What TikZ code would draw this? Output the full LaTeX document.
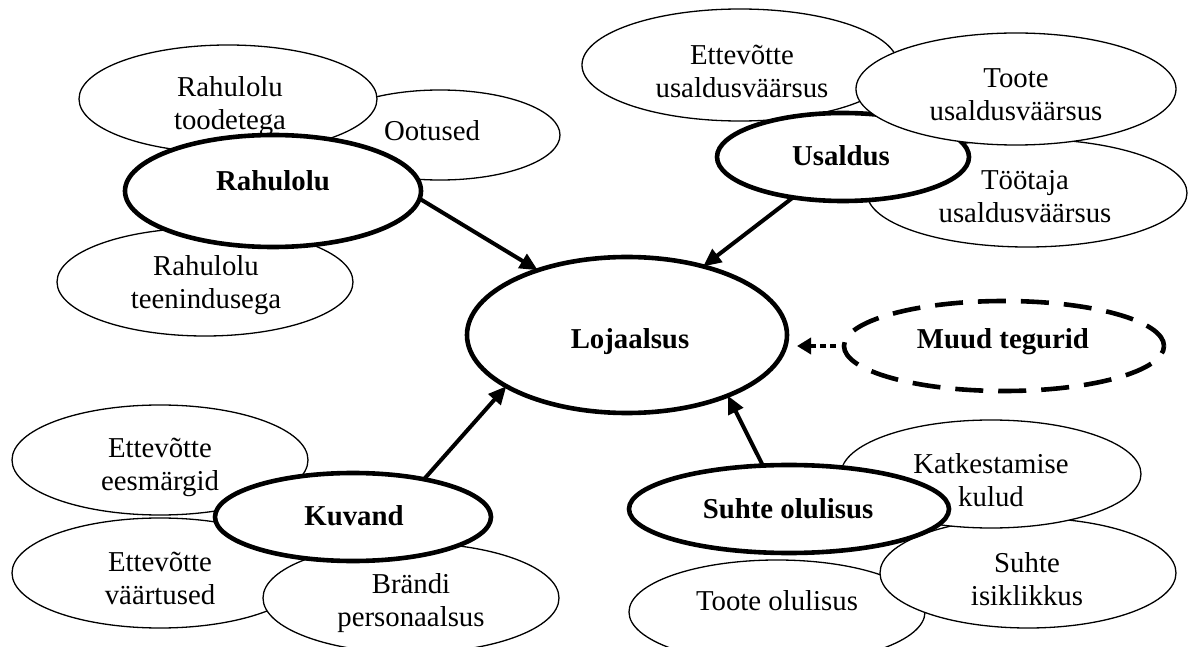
\documentclass[tikz,border=0pt]{standalone}
\usepackage{fontspec}
\setmainfont{Liberation Serif}
\usetikzlibrary{shapes.geometric,arrows.meta}
\begin{document}
\begin{tikzpicture}[x=0.5pt,y=-0.5pt,
  thinel/.style={ellipse,draw,fill=white,line width=0.65pt,inner sep=0pt,outer sep=0pt},
  boldel/.style={ellipse,draw,fill=white,line width=2.3pt,inner sep=0pt,outer sep=0pt},
  dashel/.style={ellipse,draw,fill=white,line width=2.3pt,inner sep=0pt,outer sep=0pt,dash pattern=on 14pt off 7.5pt},
  txt/.style={align=center,inner sep=0pt,font=\fontsize{14.4}{16.5}\selectfont},
  btxt/.style={align=center,inner sep=0pt,font=\fontsize{14.4}{16.5}\selectfont\bfseries},
  conn/.style={line width=2pt,-{Triangle[length=9pt,width=8pt]}},
  dotconn/.style={line width=2.3pt,dash pattern=on 3pt off 2pt,-{Triangle[length=7pt,width=8pt]}},
]
\useasboundingbox (0,0) rectangle (1191,647);

% Rahulolu group
\node[thinel,minimum width=120pt,minimum height=45pt] (oot) at (440,135) {};
\node[txt] (oot-t) at (432,131) {Ootused};
\node[thinel,minimum width=149pt,minimum height=54pt] (rtood) at (228,99) {};
\node[txt] (rtood-t) at (230,106) {Rahulolu\\toodetega};
\node[thinel,minimum width=148pt,minimum height=54pt] (rteen) at (205,282) {};
\node[txt] (rteen-t) at (206,285) {Rahulolu\\teenindusega};
\node[boldel,minimum width=148pt,minimum height=56pt] (rah) at (273,191) {};
\node[btxt] (rah-t) at (273,181) {Rahulolu};

% Usaldus group
\node[thinel,minimum width=158pt,minimum height=56pt] (ettus) at (740,65) {};
\node[txt] (ettus-t) at (742,71) {Ettevõtte\\usaldusväärsus};
\node[thinel,minimum width=160pt,minimum height=54pt] (tootaja) at (1027,193) {};
\node[txt] (tootaja-t) at (1025,197) {Töötaja\\usaldusväärsus};
\node[boldel,minimum width=126pt,minimum height=44pt] (usal) at (843,157) {};
\node[btxt] (usal-t) at (841,156) {Usaldus};
\node[thinel,minimum width=160pt,minimum height=56pt] (toote) at (1016,89) {};
\node[txt] (toote-t) at (1016,95) {Toote\\usaldusväärsus};

% Kuvand group
\node[thinel,minimum width=148pt,minimum height=55pt] (eesm) at (160,460) {};
\node[txt] (eesm-t) at (160,467) {Ettevõtte\\eesmärgid};
\node[thinel,minimum width=148pt,minimum height=55pt] (vaart) at (160,573) {};
\node[txt] (vaart-t) at (160,578) {Ettevõtte\\väärtused};
\node[thinel,minimum width=148pt,minimum height=55pt] (brandi) at (411,598) {};
\node[txt] (brandi-t) at (411,603) {Brändi\\personaalsus};
\node[boldel,minimum width=138pt,minimum height=44pt] (kuv) at (353,517) {};
\node[btxt] (kuv-t) at (354,516) {Kuvand};

% Suhte olulisus group
\node[thinel,minimum width=148pt,minimum height=52pt] (tooteol) at (777,612) {};
\node[txt] (tooteol-t) at (777,601) {Toote olulisus};
\node[thinel,minimum width=148pt,minimum height=55pt] (isik) at (1028,573) {};
\node[txt] (isik-t) at (1027,579) {Suhte\\isiklikkus};
\node[thinel,minimum width=150pt,minimum height=54pt] (katk) at (991,474) {};
\node[txt] (katk-t) at (991,480) {Katkestamise\\kulud};
\node[boldel,minimum width=160pt,minimum height=44pt] (suh) at (789,509) {};
\node[btxt] (suh-t) at (788,509) {Suhte olulisus};

% centre and other factors
\node[boldel,minimum width=160pt,minimum height=78pt] (loj) at (627,335) {};
\node[btxt] (loj-t) at (630,342) {Lojaalsus};
\node[dashel,minimum width=160pt,minimum height=45pt] (muud) at (1004,346) {};
\node[btxt] (muud-t) at (1003,342) {Muud tegurid};

% connectors
\draw[conn] (rah.-3.5) -- (loj.144.8);
\draw[conn] (usal.219.4) -- (loj.42.9);
\draw[conn] (kuv.28.8) -- (loj.203.1);
\draw[conn] (suh.121.9) -- (loj.-31.4);
\draw[dotconn,shorten <=4pt,shorten >=5pt] (muud.west) -- (loj.east |- muud.west);
\end{tikzpicture}
\end{document}
